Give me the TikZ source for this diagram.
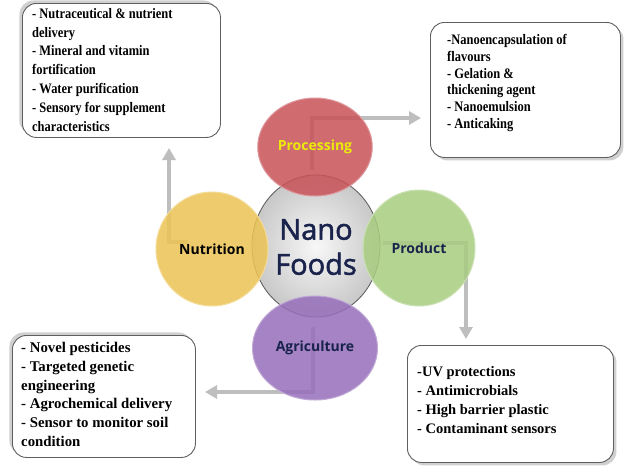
\documentclass[tikz,border=0pt]{standalone}
\usepackage{fontspec}
\setmainfont{Liberation Serif}
\newfontfamily\condfont[FakeStretch=0.86]{Liberation Serif}
\newfontfamily\labelfont{Open Sans}
\newfontfamily\nanofont[FakeBold=1.8]{Open Sans}
\usetikzlibrary{arrows.meta,shadows,shapes.geometric}
\definecolor{procred}{RGB}{200,82,88}
\definecolor{nutyellow}{RGB}{236,196,84}
\definecolor{prodgreen}{RGB}{168,205,128}
\definecolor{agripurple}{RGB}{150,110,186}
\definecolor{centregray}{RGB}{200,200,200}
\definecolor{arrowgray}{RGB}{190,190,190}
\definecolor{boxedge}{RGB}{95,95,95}
\definecolor{navytext}{RGB}{25,35,75}
\definecolor{proctext}{RGB}{235,235,10}
\tikzset{
  infobox/.style={draw=boxedge, line width=0.9pt, rounded corners=14pt, fill=white, inner sep=0pt},
  shadowtl/.style={drop shadow={shadow xshift=-3pt, shadow yshift=3pt, fill=gray!60, opacity=0.6}},
  shadowbr/.style={drop shadow={shadow xshift=3pt, shadow yshift=-3pt, fill=gray!60, opacity=0.6}},
  infotext/.style={anchor=north west, align=left, inner sep=0pt, font=\bfseries\fontsize{14.5}{18.8}\selectfont},
  condtext/.style={anchor=north west, align=left, inner sep=0pt, font=\condfont\bfseries\fontsize{14.5}{18.8}\selectfont},
  flowarrow/.style={draw=arrowgray, line width=4pt, -{Triangle[length=12pt,width=13pt]}},
  petal/.style={ellipse, fill opacity=0.85, text opacity=1, line width=1pt, font=\labelfont\bfseries\fontsize{14}{16}\selectfont},
}
\begin{document}
\begin{tikzpicture}[x=1pt,y=-1pt]
\useasboundingbox (0,0) rectangle (624,475);
\fill[white] (0,0) rectangle (624,475);

% boxes
\node[infobox, shadowtl, anchor=north west, minimum width=198pt, minimum height=134pt] (tlbox) at (22,3) {};
\node[infobox, shadowbr, anchor=north west, minimum width=190pt, minimum height=135pt] (trbox) at (430,22) {};
\node[infobox, shadowtl, anchor=north west, minimum width=183pt, minimum height=122pt] (blbox) at (12,335) {};
\node[infobox, shadowbr, anchor=north west, minimum width=206pt, minimum height=117pt] (brbox) at (407,345) {};

\node[condtext] (tltext) at (32,8) {- Nutraceutical \& nutrient\\delivery\\- Mineral and vitamin\\fortification\\- Water purification\\- Sensory for supplement\\characteristics};
\node[condtext, font=\condfont\bfseries\fontsize{14.5}{16.8}\selectfont] (trtext) at (447,34) {-Nanoencapsulation of\\flavours\\- Gelation \&\\thickening agent\\- Nanoemulsion\\- Anticaking};
\node[infotext, font=\bfseries\fontsize{14.8}{18.8}\selectfont] (bltext) at (21,342) {- Novel pesticides\\- Targeted genetic\\engineering\\- Agrochemical delivery\\- Sensor to monitor soil\\condition};
\node[infotext, font=\bfseries\fontsize{14.5}{19}\selectfont] (brtext) at (417,366) {-UV protections\\- Antimicrobials\\- High barrier plastic\\- Contaminant sensors};

% arrow coordinates
\coordinate (procstart) at (312,170);
\coordinate (procend) at (421,118);
\coordinate (nutstart) at (188,242);
\coordinate (nutend) at (169,148);
\coordinate (prodstart) at (383,243);
\coordinate (prodend) at (466,339);
\coordinate (agristart) at (313,327);
\coordinate (agriend) at (205,392);

\draw[flowarrow] (procstart) |- (procend);
\draw[flowarrow] (nutstart) -| (nutend);
\draw[flowarrow] (prodstart) -| (prodend);
\draw[flowarrow] (agristart) |- (agriend);

% centre
\node[ellipse, minimum width=128pt, minimum height=142pt, draw=gray!70!black, line width=0.8pt,
      inner color=white!94!gray, outer color=centregray] (nano) at (316,246) {};
\node[font=\nanofont\fontsize{29}{35}\selectfont, text=navytext, align=center] (nanotext) at (316,247) {Nano\\Foods};

% petals
\node[petal, fill=procred, draw=procred!60!white, minimum width=114pt, minimum height=98pt, text=proctext] (proc) at (315,147) {Processing};
\node[petal, fill=nutyellow, draw=nutyellow!60!white, minimum width=112pt, minimum height=114pt, text=black] (nut) at (212,249) {Nutrition};
\node[petal, fill=prodgreen, draw=prodgreen!60!white, minimum width=112pt, minimum height=116pt, text=navytext] (prod) at (419,248) {Product};
\node[petal, fill=agripurple, draw=agripurple!60!white, minimum width=125pt, minimum height=104pt, text=navytext] (agri) at (315,348) {Agriculture};
\end{tikzpicture}
\end{document}
